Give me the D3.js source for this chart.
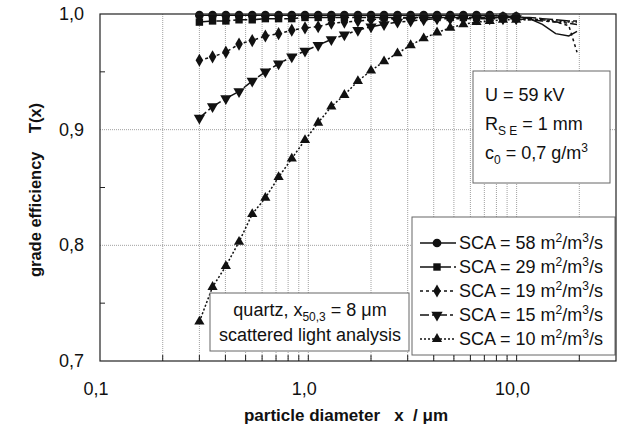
<!DOCTYPE html>
<html>
<head>
<meta charset="utf-8">
<script src="https://cdn.jsdelivr.net/npm/d3@7/dist/d3.min.js"></script>
<style>
  body { margin: 0; background: #fff; }
  text { font-family: "Liberation Sans", Arial, sans-serif; fill: #111; }
</style>
</head>
<body>
<div id="chart"></div>
<script>
/****** DATA ******/
// particle diameter (µm), scattered light channels
var diameters = [0.300, 0.347, 0.402, 0.465, 0.538, 0.622, 0.720, 0.833, 0.964, 1.115,
  1.29, 1.49, 1.73, 2.00, 2.31, 2.68, 3.10, 3.58, 4.15, 4.80,
  5.55, 6.42, 7.43, 8.60, 9.95, 11.5, 13.3, 15.4, 17.8, 19.5];

var sca58 = [0.999, 0.999, 0.999, 0.999, 0.999, 0.999, 0.999, 0.999, 0.999, 0.999,
  0.999, 0.999, 0.999, 0.999, 0.999, 0.999, 0.999, 0.999, 0.999, 0.999,
  0.999, 0.999, 0.999, 0.998, 0.998, 0.996, 0.991, 0.983, 0.981, 0.985];
var sca29 = [0.993, 0.994, 0.994, 0.995, 0.995, 0.996, 0.996, 0.996, 0.997, 0.997,
  0.997, 0.997, 0.997, 0.997, 0.997, 0.997, 0.997, 0.997, 0.997, 0.997,
  0.997, 0.997, 0.997, 0.997, 0.997, 0.997, 0.996, 0.995, 0.994, 0.994];
var sca19 = [0.960, 0.963, 0.967, 0.974, 0.977, 0.981, 0.983, 0.986, 0.988, 0.989,
  0.992, 0.993, 0.994, 0.995, 0.996, 0.996, 0.997, 0.997, 0.997, 0.997,
  0.997, 0.997, 0.997, 0.997, 0.997, 0.996, 0.995, 0.993, 0.990, 0.967];
var sca15 = [0.910, 0.920, 0.927, 0.933, 0.942, 0.950, 0.957, 0.963, 0.968, 0.973,
  0.978, 0.982, 0.986, 0.989, 0.991, 0.993, 0.994, 0.995, 0.996, 0.996,
  0.996, 0.996, 0.996, 0.996, 0.996, 0.995, 0.994, 0.993, 0.992, 0.991];
var sca10 = [0.734, 0.764, 0.782, 0.803, 0.827, 0.841, 0.859, 0.875, 0.891, 0.906,
  0.920, 0.930, 0.942, 0.951, 0.959, 0.966, 0.973, 0.979, 0.984, 0.988,
  0.991, 0.993, 0.994, 0.995, 0.995, 0.995, 0.995, 0.994, 0.993, 0.993];

var seriesNames = ["58", "29", "19", "15", "10"];
var seriesValues = [sca58, sca29, sca19, sca15, sca10];

var xTickLabels = ["0,1", "1,0", "10,0"];
var xTickValues = [0.1, 1, 10];
var xGridValues = [0.2, 0.3, 0.4, 0.5, 0.6, 0.7, 0.8, 0.9, 1, 2, 3, 4, 5, 6, 7, 8, 9, 10, 20];
var yTickLabels = ["0,7", "0,8", "0,9", "1,0"];
var yTickValues = [0.7, 0.8, 0.9, 1.0];
var yMinorValues = [0.75, 0.85, 0.95];

/****** STYLES PER SERIES ******/
var symbols = [d3.symbolCircle, d3.symbolSquare, d3.symbolDiamond, "down", d3.symbolTriangle];
var symbolSizes = [60, 55, 50, 55, 45];
var dashes = [null, "14,3", "3,3", "9,3,3,3", "2,2"];

var width = 618, height = 434;
var plot = {left: 100, right: 616, top: 14, bottom: 361};

var svg = d3.select("#chart")
  .append("svg")
  .attr("width", width)
  .attr("height", height);

var x = d3.scaleLog().domain([0.1, 30]).range([plot.left, plot.right]);
var y = d3.scaleLinear().domain([0.7, 1.0]).range([plot.bottom, plot.top]);

/****** GRID ******/
svg.append("g")
  .selectAll("line")
  .data(xGridValues)
  .enter()
  .append("line")
    .attr("x1", function(d) { return x(d); })
    .attr("x2", function(d) { return x(d); })
    .attr("y1", plot.top)
    .attr("y2", plot.bottom)
    .attr("stroke", "#888")
    .attr("stroke-width", 0.8)
    .attr("stroke-dasharray", "1,1");

svg.append("g")
  .selectAll("line")
  .data([0.8, 0.9])
  .enter()
  .append("line")
    .attr("x1", plot.left)
    .attr("x2", plot.right)
    .attr("y1", function(d) { return y(d); })
    .attr("y2", function(d) { return y(d); })
    .attr("stroke", "#888")
    .attr("stroke-width", 0.8)
    .attr("stroke-dasharray", "1,1");

/****** SERIES ******/
var line = d3.line()
  .x(function(d) { return x(d[0]); })
  .y(function(d) { return y(d[1]); });

function markerPath(i) {
  var type = symbols[i] === "down" ? d3.symbolTriangle : symbols[i];
  return d3.symbol().type(type).size(symbolSizes[i])();
}
function markerTransform(i, px, py) {
  var t = "translate(" + px + "," + py + ")";
  if (symbols[i] === "down") t += " rotate(180)";
  return t;
}

// draw bottom series first so the top lines sit on top
for (var s = seriesValues.length - 1; s >= 0; s--) {
  var pts = diameters.map(function(d, k) { return [d, seriesValues[s][k]]; });
  svg.append("path")
    .datum(pts)
    .attr("d", line)
    .attr("fill", "none")
    .attr("stroke", "#111")
    .attr("stroke-width", 1.5)
    .attr("stroke-dasharray", dashes[s]);

  svg.append("g")
    .selectAll("path")
    .data(pts.filter(function(p) { return p[0] <= 10; }))
    .enter()
    .append("path")
      .attr("d", markerPath(s))
      .attr("transform", (function(si) {
        return function(p) { return markerTransform(si, x(p[0]), y(p[1])); };
      })(s))
      .attr("fill", "#111");
}

/****** RICH TEXT (super/subscripts) ******/
// parts: [text, "sup" | "sub" | ""]
function richText(sel, parts, size) {
  var shift = 0;
  parts.forEach(function(p) {
    var target = p[1] === "sup" ? -7 : (p[1] === "sub" ? 5 : 0);
    var ts = sel.append("tspan").attr("dy", target - shift).text(p[0]);
    if (p[1]) ts.style("font-size", Math.round(size * 0.68) + "px");
    shift = target;
  });
  return sel;
}

// operating conditions
svg.append("rect")
  .attr("x", 473).attr("y", 71).attr("width", 137).attr("height", 112)
  .attr("fill", "#fff").attr("stroke", "#666").attr("stroke-width", 1);

svg.append("text").attr("x", 485).attr("y", 101)
  .style("font-size", "18px").text("U = 59 kV");
richText(svg.append("text").attr("x", 485).attr("y", 130).style("font-size", "18px"),
  [["R", ""], ["S E", "sub"], [" = 1 mm", ""]], 18);
richText(svg.append("text").attr("x", 485).attr("y", 159).style("font-size", "18px"),
  [["c", ""], ["0", "sub"], [" = 0,7 g/m", ""], ["3", "sup"]], 18);

// material
svg.append("rect")
  .attr("x", 210).attr("y", 293).attr("width", 199).attr("height", 58)
  .attr("fill", "#fff").attr("stroke", "#666").attr("stroke-width", 1);
richText(svg.append("text").attr("x", 310).attr("y", 316)
  .attr("text-anchor", "middle").style("font-size", "18px"),
  [["quartz, x", ""], ["50,3", "sub"], [" = 8 \u03bcm", ""]], 18);
svg.append("text").attr("x", 310).attr("y", 341)
  .attr("text-anchor", "middle").style("font-size", "18px")
  .text("scattered light analysis");

/****** LEGEND ******/
svg.append("rect")
  .attr("x", 412).attr("y", 217).attr("width", 203).attr("height", 138)
  .attr("fill", "#fff").attr("stroke", "#666").attr("stroke-width", 1);

seriesNames.forEach(function(name, i) {
  var cy = 243 + i * 24;
  svg.append("line")
    .attr("x1", 420).attr("x2", 456).attr("y1", cy).attr("y2", cy)
    .attr("stroke", "#111").attr("stroke-width", 1.5)
    .attr("stroke-dasharray", dashes[i]);
  svg.append("path")
    .attr("d", markerPath(i))
    .attr("transform", markerTransform(i, 437, cy))
    .attr("fill", "#111");
  richText(svg.append("text").attr("x", 459).attr("y", cy + 6).style("font-size", "18px"),
    [["SCA = " + name + " m", ""], ["2", "sup"], ["/m", ""], ["3", "sup"], ["/s", ""]], 18);
});

/****** AXES ******/
svg.append("rect")
  .attr("x", plot.left).attr("y", plot.top)
  .attr("width", plot.right - plot.left).attr("height", plot.bottom - plot.top)
  .attr("fill", "none").attr("stroke", "#222").attr("stroke-width", 1.2);

// inward ticks
svg.append("g")
  .selectAll("line")
  .data(xGridValues)
  .enter()
  .append("line")
    .attr("x1", function(d) { return x(d); })
    .attr("x2", function(d) { return x(d); })
    .attr("y1", plot.bottom)
    .attr("y2", plot.bottom - 6)
    .attr("stroke", "#222");

svg.append("g")
  .selectAll("line")
  .data(yMinorValues)
  .enter()
  .append("line")
    .attr("x1", plot.left)
    .attr("x2", plot.left + 5)
    .attr("y1", function(d) { return y(d); })
    .attr("y2", function(d) { return y(d); })
    .attr("stroke", "#222");

svg.append("g")
  .selectAll("text")
  .data(xTickValues)
  .enter()
  .append("text")
    .attr("x", function(d) { return x(d) - 4; })
    .attr("y", 395)
    .attr("text-anchor", "middle")
    .style("font-size", "18px")
    .text(function(d, i) { return xTickLabels[i]; });

svg.append("g")
  .selectAll("text")
  .data(yTickValues)
  .enter()
  .append("text")
    .attr("x", 84)
    .attr("y", function(d) { return y(d) + 6; })
    .attr("text-anchor", "end")
    .style("font-size", "18px")
    .text(function(d, i) { return yTickLabels[i]; });

/****** AXIS TITLES ******/
svg.append("text")
  .attr("x", 346).attr("y", 421)
  .attr("text-anchor", "middle")
  .style("font-size", "17px").style("font-weight", "bold")
  .style("white-space", "pre")
  .text("particle diameter   x  / \u03bcm");

svg.append("text")
  .attr("transform", "translate(41,190) rotate(-90)")
  .attr("text-anchor", "middle")
  .style("font-size", "16.5px").style("font-weight", "bold")
  .style("white-space", "pre")
  .text("grade efficiency    T(x)");
</script>
</body>
</html>
